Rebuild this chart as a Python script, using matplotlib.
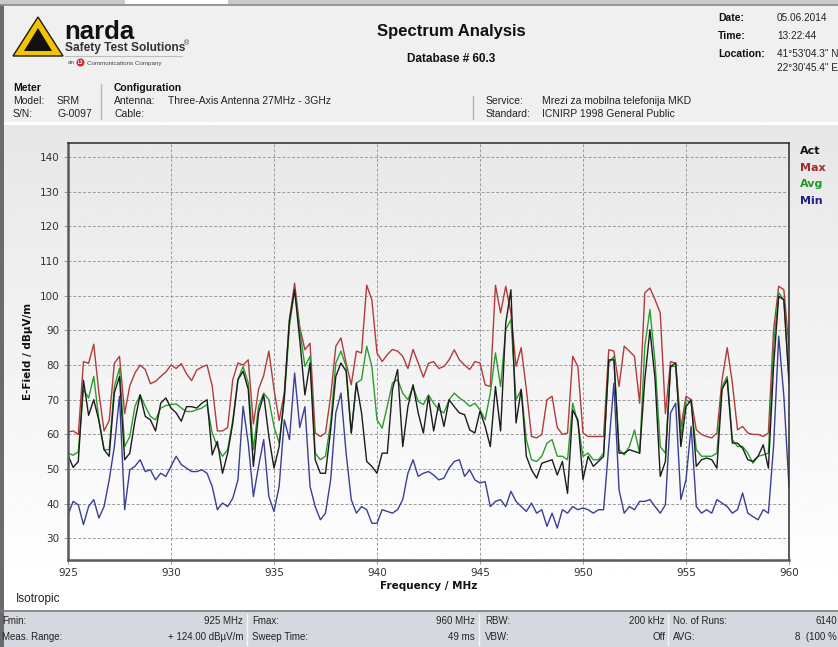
import numpy as np
import matplotlib
matplotlib.use("Agg")
import matplotlib.pyplot as plt
from matplotlib.patches import Rectangle, Polygon, Circle

# ---------------- data ----------------
f_min, f_max, f_step = 925.0, 960.0, 0.25
freq = np.linspace(f_min, f_max, int(round((f_max - f_min) / f_step)) + 1)

# one row per MHz: values at x.00, x.25, x.50, x.75 (dBuV/m)
max_trace = [
    60.7, 61, 60, 81,        # 925
    80.5, 86, 72, 61,        # 926
    64, 80.5, 82.5, 66,      # 927
    74, 77.7, 80, 78.7,      # 928
    74.6, 75.3, 76.7, 78,    # 929
    80, 79, 80.4, 77.5,      # 930
    75.5, 78.6, 79.4, 80,    # 931
    74, 61, 61, 62,          # 932
    75.8, 80.6, 80, 81.5,    # 933
    63, 73, 77, 84,          # 934
    73, 64, 72, 93,          # 935
    103.6, 91, 84.4, 86.3,   # 936
    60.4, 59.4, 60.4, 71,    # 937
    85.4, 87.8, 80.6, 74.3,  # 938
    84, 83.5, 103, 98.8,     # 939
    83.5, 81, 83, 84.5,      # 940
    84, 82.5, 79, 84.5,      # 941
    80.6, 76.5, 80.5, 81,    # 942
    79, 79.6, 81.5, 84.4,    # 943
    81.5, 80, 78.7, 81,      # 944
    80.6, 74.3, 73.8, 103,   # 945
    95, 102.7, 95, 79.6,     # 946
    85, 73, 59.4, 59,        # 947
    60, 70, 71, 62,          # 948
    60, 60.4, 82.5, 79.6,    # 949
    60.4, 59.4, 59.4, 59.4,  # 950
    59.4, 84.4, 84, 73.8,    # 951
    85.4, 84, 82.5, 69,      # 952
    100.8, 102.2, 98.8, 95,  # 953
    66, 81, 80.5, 62,        # 954
    71, 70, 61.3, 60,        # 955
    59.4, 59, 60.4, 75.8,    # 956
    85, 74.8, 61.3, 62.3,    # 957
    60.4, 60, 60, 59.4,      # 958
    60.4, 90, 102.7, 101.7,  # 959
    85,                      # 960
]

act_trace = [
    54, 50.5, 52.2, 75.6,
    65.5, 70, 64, 55.6,
    53.7, 72, 76.7, 52.7,
    54.6, 64, 71.4, 65.2,
    64.2, 61, 69, 70.5,
    67.6, 66.2, 63.8, 68,
    68, 67.6, 69, 70,
    54.1, 58, 48.8, 54.6,
    63.3, 75.8, 78.2, 73,
    50.8, 66.2, 71.4, 59.4,
    50.3, 56.5, 71, 93,
    101.7, 87.3, 71.4, 80.6,
    52.7, 48.8, 48.8, 61.3,
    76.7, 80.6, 78.2, 60.4,
    74.8, 66.2, 52.2, 50.8,
    48.8, 54.6, 54.6, 73,
    78.7, 56.5, 68, 74.3,
    66.2, 60.4, 71, 61,
    69, 62.3, 70, 68,
    66.2, 65.7, 61.3, 60.4,
    66.7, 62.3, 56.5, 73.8,
    61, 92.1, 101.7, 63.3,
    73, 53.7, 49.8, 47.4,
    51.7, 52.2, 52.7, 48.3,
    52.2, 43, 67, 64.2,
    47, 53.7, 50.8, 52.2,
    53.7, 81.5, 81.5, 54.6,
    54.6, 55.6, 55.1, 54.6,
    75.8, 90.2, 75.8, 47.9,
    52.2, 79.6, 80.6, 56.5,
    68, 70, 50.8, 52.7,
    53.2, 52.7, 50.3, 73,
    75.8, 57.5, 57.5, 56,
    52.7, 52.2, 53.7, 57,
    50.3, 79.6, 99.8, 98.8,
    75,
]

avg_trace = [
    54.6, 54, 55, 73,
    70.5, 76.7, 64.2, 55.6,
    55.6, 73.8, 79.1, 56.5,
    59.4, 68.1, 71.4, 68.1,
    65.2, 64.2, 67.6, 68.3,
    68.6, 68.8, 67.6, 66.6,
    66.6, 67.1, 67.6, 68.6,
    60.4, 56.5, 53.7, 55.6,
    64.2, 75.8, 79.6, 74.8,
    55.6, 68.1, 71.9, 70,
    62.3, 57.5, 70, 91.2,
    101.7, 90.2, 79.6, 82.5,
    54.6, 52.7, 53.7, 63.3,
    80.6, 84, 79.6, 60.4,
    74.8, 75.8, 85.4, 79.6,
    64.2, 61.8, 68.1, 74.8,
    75.8, 71.9, 70, 73.8,
    69.5, 68.6, 71.4, 69,
    67.1, 66.2, 70, 71.9,
    70.5, 69.5, 68.1, 69,
    67.1, 64.2, 71.9, 83.5,
    73.8, 90.2, 93.1, 70,
    72.9, 58.5, 52.7, 52.2,
    53.7, 57.5, 58.5, 53.7,
    53.7, 52.7, 69, 63.3,
    53.7, 54.6, 52.7, 52.7,
    54.6, 80.6, 82.5, 55.6,
    54.1, 56.5, 61.3, 54.6,
    85.4, 96, 80.6, 56.5,
    54.6, 79.6, 79.6, 59.4,
    70, 69, 55.6, 53.7,
    53.7, 53.7, 54.6, 73.8,
    76.7, 58.5, 56.5, 56.5,
    54.6, 51.7, 53.7, 54.1,
    54.6, 85.4, 100.8, 98.8,
    75.8,
]

min_trace = [
    36.8, 40.7, 39.7, 34,
    39.2, 41.2, 35.9, 39.2,
    46.9, 56.5, 71, 38.3,
    49.8, 50.8, 52.7, 49.3,
    49.8, 46.9, 48.8, 47.9,
    50.8, 53.7, 51.3, 50.3,
    49.3, 49.3, 49.8, 48.8,
    45, 38.3, 40.2, 39.2,
    41.6, 46.9, 68.1, 57.5,
    42.1, 50.8, 58.5, 42.1,
    37.8, 45, 64.2, 58.5,
    77.7, 62, 68, 45,
    39.2, 35.4, 37.3, 46.9,
    66.2, 71.9, 54.6, 41.2,
    37.3, 39.2, 38.3, 34.4,
    34.4, 38.3, 37.8, 37.3,
    38.3, 41.2, 48.8, 52.7,
    47.9, 48.8, 49.3, 48.3,
    46.9, 47.4, 50.3, 52.2,
    52.7, 47.9, 49.8, 46.9,
    46, 46.4, 39.2, 40.7,
    41.2, 39.2, 43.6, 40.7,
    39.2, 37.8, 40.2, 37.3,
    38.3, 33.5, 37.3, 33,
    38.3, 37.3, 39.2, 38.3,
    38.8, 38.3, 37.3, 38.3,
    38.3, 56.5, 74.8, 44,
    37.3, 39.2, 38.3, 40.7,
    40.7, 41.2, 39.2, 37.3,
    39.7, 66.2, 69, 41.2,
    46.9, 62.3, 39.2, 37.3,
    38.3, 37.3, 41.2, 40.2,
    39.2, 37.3, 38.3, 43.1,
    37.3, 36.3, 35.4, 38.3,
    37.3, 56.5, 88.3, 71,
    45,
]

trace_names = ["Act", "Max", "Avg", "Min"]
x_ticks = [925, 930, 935, 940, 945, 950, 955, 960]
y_ticks = [30, 40, 50, 60, 70, 80, 90, 100, 110, 120, 130, 140]

# ---------------- figure ----------------
W, H = 838, 647
UI = "Liberation Sans"
plt.rcParams["font.family"] = "DejaVu Sans"

fig = plt.figure(figsize=(W / 100, H / 100), dpi=100)

# background layer in pixel coordinates (y downwards)
bg = fig.add_axes([0, 0, 1, 1])
bg.set_xlim(0, W)
bg.set_ylim(H, 0)
bg.axis("off")

bg.add_patch(Rectangle((0, 0), W, 122, color="#F0F0F0", lw=0))
bg.add_patch(Rectangle((0, 0), W, 5, color="#C9C9C9", lw=0))
bg.add_patch(Rectangle((125, 0), 103, 4, color="#FFFFFF", lw=0))
bg.plot([0, W], [5, 5], color="#8A8A8A", lw=1.2)
grad = np.linspace(0.905, 1.0, 256).reshape(-1, 1)
bg.imshow(grad, cmap="gray", vmin=0, vmax=1, extent=[0, W, 590, 125], aspect="auto")
bg.add_patch(Rectangle((0, 611), W, 36, color="#D5D9DF", lw=0))
bg.plot([0, W], [610.5, 610.5], color="#7A7A7A", lw=1.2)
bg.add_patch(Rectangle((0, 5), 4, H - 5, color="#6B6B6B", lw=0))
for xs in (247, 479, 668):
    bg.plot([xs, xs], [614, 645], color="#F5F5F5", lw=1)

# logo
bg.add_patch(Polygon([[38, 17], [13, 56], [63, 56]], closed=True, fc="#F2C500", ec="#1A1A1A", lw=1))
bg.add_patch(Polygon([[38, 28], [24, 51], [52, 51]], closed=True, fc="#111111", ec="none"))
bg.text(64, 39, "narda", fontsize=18.5, fontweight="bold", family=UI, color="#111111", va="baseline")
bg.text(65, 51, "Safety Test Solutions", fontsize=8.6, fontweight="bold", family=UI, color="#333333", va="baseline")
bg.text(184, 45, "®", fontsize=5, family=UI, color="#333333", va="baseline")
bg.plot([65, 182], [56, 56], color="#BDBDBD", lw=0.8)
bg.text(68, 63, "an", fontsize=4.5, family=UI, color="#444444", va="center")
bg.add_patch(Circle((80.5, 62.5), 4, fc="#D8262B", ec="none"))
bg.text(80.5, 62.8, "L3", fontsize=3.3, fontweight="bold", family=UI, color="white", va="center", ha="center")
bg.text(86.5, 63, "Communications Company", fontsize=4.5, family=UI, color="#444444", va="center")

# titles
bg.text(451, 36, "Spectrum Analysis", fontsize=12, fontweight="bold", family=UI, color="#111111", ha="center", va="baseline")
bg.text(451, 62, "Database # 60.3", fontsize=8.5, fontweight="bold", family=UI, color="#111111", ha="center", va="baseline")

# date / time / location
info_rows = [("Date:", "05.06.2014", 18), ("Time:", "13:22:44", 36), ("Location:", "41°53'04.3\" N", 54)]
for lab, val, yy in info_rows:
    bg.text(718, yy, lab, fontsize=7.5, fontweight="bold", family=UI, color="#111111", va="center")
    bg.text(777, yy, val, fontsize=7.2, family=UI, color="#222222", va="center")
bg.text(777, 68, "22°30'45.4\" E", fontsize=7.2, family=UI, color="#222222", va="center")

# meter / configuration
bg.text(13, 88, "Meter", fontsize=7.5, fontweight="bold", family=UI, color="#111111", va="center")
bg.text(13, 101, "Model:", fontsize=7.5, family=UI, color="#222222", va="center")
bg.text(57, 101, "SRM", fontsize=7.5, family=UI, color="#222222", va="center")
bg.text(13, 114, "S/N:", fontsize=7.5, family=UI, color="#222222", va="center")
bg.text(57, 114, "G-0097", fontsize=7.5, family=UI, color="#222222", va="center")
bg.plot([101, 101], [84, 119], color="#B5B5B5", lw=1)
bg.text(114, 88, "Configuration", fontsize=7.5, fontweight="bold", family=UI, color="#111111", va="center")
bg.text(114, 101, "Antenna:", fontsize=7.5, family=UI, color="#222222", va="center")
bg.text(168, 101, "Three-Axis Antenna 27MHz - 3GHz", fontsize=7.5, family=UI, color="#222222", va="center")
bg.text(114, 114, "Cable:", fontsize=7.5, family=UI, color="#222222", va="center")
bg.plot([473, 473], [96, 119], color="#B5B5B5", lw=1)
bg.text(486, 101, "Service:", fontsize=7.5, family=UI, color="#222222", va="center")
bg.text(542, 101, "Mrezi za mobilna telefonija MKD", fontsize=7.5, family=UI, color="#222222", va="center")
bg.text(486, 114, "Standard:", fontsize=7.5, family=UI, color="#222222", va="center")
bg.text(542, 114, "ICNIRP 1998 General Public", fontsize=7.5, family=UI, color="#222222", va="center")

# legend
legend_cols = {"Act": "#111111", "Max": "#A32A2A", "Avg": "#1F9A1F", "Min": "#22228A"}
for i, name in enumerate(trace_names):
    bg.text(800, 151 + i * 16.7, name, fontsize=8, fontweight="bold", color=legend_cols[name], va="center")

bg.text(16, 599, "Isotropic", fontsize=8.5, family=UI, color="#222222", va="center")

# bottom status table
rows = [
    [("Fmin:", 2, "left"), ("925 MHz", 243, "right"), ("Fmax:", 252, "left"), ("960 MHz", 475, "right"),
     ("RBW:", 485, "left"), ("200 kHz", 665, "right"), ("No. of Runs:", 673, "left"), ("6140", 837, "right")],
    [("Meas. Range:", 2, "left"), ("+ 124.00 dBµV/m", 243, "right"), ("Sweep Time:", 252, "left"), ("49 ms", 475, "right"),
     ("VBW:", 485, "left"), ("Off", 665, "right"), ("AVG:", 673, "left"), ("8  (100 %", 837, "right")],
]
for r, yy in zip(rows, (621, 637)):
    for txt, xx, al in r:
        bg.text(xx, yy, txt, fontsize=7, family=UI, color="#222222", va="center", ha=al)

# ---------------- spectrum plot ----------------
ax = fig.add_axes([68 / W, 1 - 560 / H, 721 / W, 417 / H])
ax.set_facecolor("none")

ax.plot(freq, max_trace, color="#B03C3C", lw=1.0)
ax.plot(freq, avg_trace, color="#2E9B2E", lw=1.0)
ax.plot(freq, act_trace, color="#1C1C1C", lw=1.0)
ax.plot(freq, min_trace, color="#3A3F96", lw=1.0)

ax.set_xlim(f_min, f_max)
ax.set_ylim(23.8, 144)
ax.set_xticks(x_ticks)
ax.set_yticks(y_ticks)
ax.grid(True, color="#9A9A9A", lw=0.7, linestyle=(0, (3, 2)))
ax.tick_params(length=3, width=0.7, color="#9A9A9A", labelsize=7.5, labelcolor="#333333", pad=3)

for s in ("left", "bottom"):
    ax.spines[s].set_color("#5A5A5A")
    ax.spines[s].set_linewidth(1.8)
for s in ("top", "right"):
    ax.spines[s].set_color("#2A2A2A")
    ax.spines[s].set_linewidth(1.1)

ax.set_xlabel("Frequency / MHz", fontsize=7.5, fontweight="bold", color="#111111", labelpad=2)
ax.set_ylabel("E-Field / dBµV/m", fontsize=7.5, fontweight="bold", color="#111111", labelpad=5)

fig.savefig("out.png", dpi=100)
